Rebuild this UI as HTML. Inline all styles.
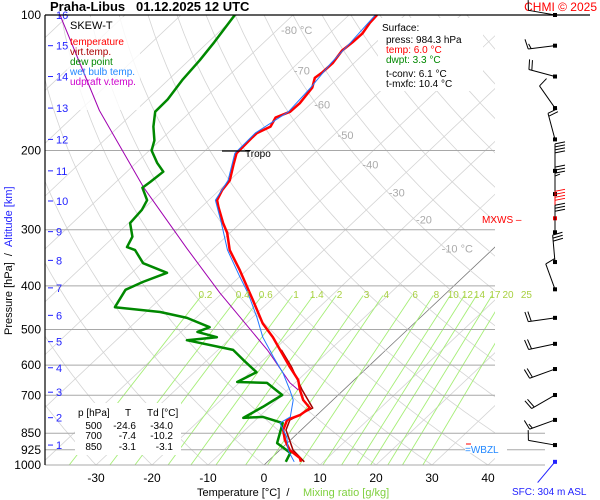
<!DOCTYPE html>
<html><head><meta charset="utf-8"><style>
html,body{margin:0;padding:0;background:#fff;}
svg{display:block;font-family:"Liberation Sans",sans-serif;}
</style></head><body>
<svg id="c" width="600" height="500" viewBox="0 0 600 500">
<defs><clipPath id="plot"><rect x="45" y="15" width="450" height="450"/></clipPath></defs>
<rect x="0" y="0" width="600" height="500" fill="#fff"/>
<g id="grid" clip-path="url(#plot)"></g>
<g id="plines"></g>
<g id="boxes">
<rect x="67" y="17" width="73" height="93" fill="#fff" fill-opacity="0.8"/>
<rect x="378" y="18" width="105" height="73" fill="#fff"/>
<rect x="75" y="403" width="106" height="52" fill="#fff"/>
</g>
<g id="series" clip-path="url(#plot)"></g>
<g id="labels"></g>
<g id="barbs"></g>
</svg>
<script>
// ---- data ----
const pressureTicks=[100,200,300,400,500,600,700,850,925,1000];
const tempTicks=[-30,-20,-10,0,10,20,30,40];
const isothermLabels=[-80,-70,-60,-50,-40,-30,-20,-10];
const isothermLabelP=[108,133,158,185,215,248,285,330];
const altKm=[16,15,14,13,12,11,10,9,8,7,6,5,4,3,2,1];
const altP=[100,117,137,161,189,222,259,303,351,404,465,532,608,689,785,903];
const mixRatios=[0.2,0.4,0.6,1,1.4,2,3,4,6,8,10,12,14,17,20,25];
const tempP=[984,965,927,880,836,794,774,747,717,681,647,606,555,520,484,430,369,333,305,290,267,258,245,233,215,203,187,183,177,169,164,157,145,138,134,128,120,115,110,104,100];
const tempT=[6.0,5.1,1.8,-1.0,-3.2,-4.4,-3.0,-2.6,-5.3,-7.8,-10.0,-13.9,-18.9,-22.6,-27.1,-33.2,-41.2,-46.8,-50.5,-53.1,-57.0,-58.5,-59.5,-60.0,-62.3,-63.9,-64.1,-64.1,-62.9,-63.7,-62.2,-62.1,-62.8,-64.2,-63.9,-63.8,-64.5,-64.2,-64.1,-64.8,-65.0];
const dewP=[984,940,894,807,782,786,743,699,657,654,622,584,555,528,520,506,494,471,457,446,408,392,374,356,333,328,311,290,271,258,242,235,223,213,200,190,177,164,154,139,126,115,100];
const dewT=[3.3,2.4,-1.8,-4.6,-9.3,-12.6,-11.2,-10.0,-15.0,-20.5,-18.9,-23.6,-27.3,-37.4,-32.6,-37.1,-35.8,-41.6,-47.5,-56.5,-57.9,-56.3,-53.7,-59.8,-63.7,-65.7,-66.7,-69.7,-70.1,-71.0,-74.2,-73.9,-73.5,-76.3,-79.6,-81.0,-83.8,-86.3,-86.4,-87.5,-88.1,-88.9,-90.4];
const wetP=[984,927,867,807,782,717,681,625,575,520,469,415,382,333,290,258,233,203,183,164,145,128,115,100];
const wetT=[4.8,1.5,-1.2,-5.1,-4.4,-7.1,-9.6,-14.0,-18.8,-24.4,-29.3,-35.4,-39.9,-47.2,-53.4,-58.8,-60.3,-64.2,-64.4,-62.5,-63.1,-64.1,-64.5,-65.3];
const virtP=[984,927,836,794,747,681,606,555];
const virtT=[6.6,2.4,-2.7,-3.9,-2.1,-7.4,-13.6,-18.7];
const updP=[681,657,555,415,330,241,163,100];
const updT=[-8.1,-10.9,-21.2,-40.4,-54.8,-74.2,-96.5,-121.6];
const windP=[100,117,137,161,189,222,250,283,304,354,407,471,538,612,699,794,903,984];
const windDir=[280,263,285,325,345,0,0,0,0,355,340,262,258,250,240,250,280,220];
const windSpd=[10,15,20,10,20,40,35,40,30,30,10,20,20,20,20,15,10,0];

// ---- axes ----
const K=1.06;
function Y(p){return 15+450*Math.log10(p/100);}
function X(T,p){return 264+5.6*T+K*(465-Y(p));}
const NS='http://www.w3.org/2000/svg';
function mk(tag,attrs,parent){const e=document.createElementNS(NS,tag);for(const k in attrs)e.setAttribute(k,attrs[k]);parent.appendChild(e);return e;}
function txt(s,x,y,attrs,parent){const e=mk('text',Object.assign({x:x,y:y,'font-size':11},attrs),parent);e.textContent=s;return e;}
const grid=document.getElementById('grid'),pl=document.getElementById('plines'),ser=document.getElementById('series'),lab=document.getElementById('labels'),brb=document.getElementById('barbs');

for(let T=-160;T<=40;T+=10){
  const l=mk('line',{x1:X(T,1000),y1:Y(1000),x2:X(T,100),y2:Y(100),stroke:T===0?'#777':'#d4d4d4','stroke-width':0.8},grid);
  
  
}
for(let th=-40;th<=200;th+=10){
  let pts=[];
  for(let p=1050;p>=95;p-=10){const Tk=(th+273.15)*Math.pow(p/1000,0.286);pts.push(X(Tk-273.15,p).toFixed(1)+','+Y(p).toFixed(1));}
  const l=mk('polyline',{points:pts.join(' '),fill:'none',stroke:'#d4d4d4','stroke-width':0.8},grid);
  
  
}
function tdFromW(w,p){const e=w*p/(622+w);const a=Math.log(e/6.112);return 243.5*a/(17.67-a);}
mixRatios.forEach(w=>{
  const l=mk('line',{x1:X(tdFromW(w,1000),1000),y1:Y(1000),x2:X(tdFromW(w,420),420),y2:Y(420),stroke:'#a6ee77','stroke-width':0.9},grid);
  
  
  const t=txt(String(w),X(tdFromW(w,410),410),298,{fill:'#a8d040','font-size':10,'text-anchor':'middle'},lab);
  
  
});
pressureTicks.forEach(p=>{
  const y=Y(p);
  if(p>100){const l=mk('line',{x1:45,y1:y,x2:p>=850?545:495,y2:y,stroke:'#a8a8a8','stroke-width':1},pl);
  
  }
  const t=txt(String(p),41,y+4,{'text-anchor':'end','font-size':12,fill:'#000'},lab);
  
  
});
tempTicks.forEach(T=>{
  const t=txt(String(T),X(T,1000),482,{'text-anchor':'middle','font-size':12},lab);
  
  
});
isothermLabels.forEach((T,i)=>{
  const p=isothermLabelP[i];
  const s=(T===-80||T===-10)?T+' °C':String(T);
  const t=txt(s,X(T,p)+4,Y(p)+4,{fill:'#aaa','font-size':11},lab);
  
  
});
altKm.forEach((k,i)=>{
  const y=Y(altP[i]);
  const l=mk('line',{x1:48,y1:y,x2:53,y2:y,stroke:'#22f','stroke-width':1},lab);
  
  
  const t=txt(String(k),56,y+4,{fill:'#22f','font-size':11},lab);
  
  
});
function line(P,T,color,w,name){
  const pts=P.map((p,i)=>X(T[i],p).toFixed(1)+','+Y(p).toFixed(1)).join(' ');
  const l=mk('polyline',{points:pts,fill:'none',stroke:color,'stroke-width':w,'stroke-linejoin':'round'},ser);
  
  
}
line(updP,updT,'#a000b0',1,'updraft-virtual-temperature-line');
line(dewP,dewT,'#008800',2.5,'dew-point-line');
line(virtP,virtT,'#a00000',1.5,'virtual-temperature-line');
line(tempP,tempT,'#ff0000',2.5,'temperature-line');
line(wetP,wetT,'#2277ff',1,'wet-bulb-line');

windP.forEach((p,i)=>{
  const y=Y(p),x=555,d=windDir[i]*Math.PI/180,col=(i===7)?'#f00':(i===windP.length-1?'#22f':'#000');
  const dx=Math.sin(d),dy=-Math.cos(d);const L=27;
  const ex=x+dx*L,ey=y+dy*L;
  const g=mk('g',{},brb);
  
  
  mk('line',{x1:x,y1:y,x2:ex,y2:ey,stroke:col,'stroke-width':1},g);
  mk('rect',{x:x-2,y:y-2,width:4,height:4,fill:col},g);
  let s=windSpd[i],k=0;const px=-dy,py=dx;
  while(s>=5){const len=s>=10?10:5;const bx=ex-dx*k*3,by=ey-dy*k*3;
    mk('line',{x1:bx,y1:by,x2:bx+px*len+dx*2,y2:by+py*len+dy*2,stroke:col,'stroke-width':1},g);
    s-=len;k++;}
});
</script>
<script>
const L=document.getElementById('labels');
const html=`
<line x1="45" y1="15" x2="45" y2="465" stroke="#000" stroke-width="1.2"/>
<line x1="45" y1="15" x2="590" y2="15" stroke="#000" stroke-width="1.2"/>
<text x="50" y="11" font-size="13" font-weight="bold">Praha-Libus&#160;&#160;&#160;01.12.2025 12 UTC</text>
<text x="597" y="11" font-size="12" fill="#f00" text-anchor="end">CHMI © 2025</text>
<text x="70" y="29" font-size="11">SKEW-T</text>
<text x="70" y="45" font-size="10" fill="#f00">temperature</text>
<text x="70" y="55" font-size="10" fill="#a00">virt.temp.</text>
<text x="70" y="65" font-size="10" fill="#080">dew point</text>
<text x="70" y="75" font-size="10" fill="#28f">wet bulb temp.</text>
<text x="70" y="85" font-size="10" fill="#c0c">udpraft v.temp.</text>
<g font-size="10">
<text x="382" y="31">Surface:</text>
<text x="386" y="43">press: 984.3 hPa</text>
<text x="386" y="53" fill="#f00">temp: 6.0 °C</text>
<text x="386" y="63" fill="#080">dwpt: 3.3 °C</text>
<text x="386" y="77">t-conv: 6.1 °C</text>
<text x="386" y="87">t-mxfc: 10.4 °C</text></g>
<g font-size="10">
<text x="78" y="416">p [hPa]</text><text x="125" y="416">T</text><text x="147" y="416">Td [°C]</text>
<g text-anchor="end"><text x="102" y="429">500</text><text x="136" y="429">-24.6</text><text x="173" y="429">-34.0</text>
<text x="102" y="439">700</text><text x="136" y="439">-7.4</text><text x="173" y="439">-10.2</text>
<text x="102" y="450">850</text><text x="136" y="450">-3.1</text><text x="173" y="450">-3.1</text></g></g>
<line x1="222" y1="151" x2="250" y2="151" stroke="#000" stroke-width="1.2"/>
<text x="245" y="157" font-size="10">Tropo</text>
<text x="482" y="223" font-size="10" fill="#f00">MXWS –</text>
<rect x="465" y="441" width="42" height="12" fill="#fff"/>
<line x1="466" y1="444" x2="471" y2="444" stroke="#f00"/>
<text x="465" y="453" font-size="10" fill="#28f">=WBZL</text>
<text x="512" y="495" font-size="10" fill="#22f">SFC: 304 m ASL</text>
<text x="197" y="496" font-size="11">Temperature [°C]&#160;&#160;/</text>
<text x="303" y="496" font-size="11" fill="#80d040">Mixing ratio [g/kg]</text>
<text transform="translate(12,335) rotate(-90)" font-size="11">Pressure [hPa]&#160;&#160;/&#160;&#160;<tspan fill="#22f">Altitude [km]</tspan></text>`;
L.insertAdjacentHTML('beforeend',html);
</script>
</body></html>
